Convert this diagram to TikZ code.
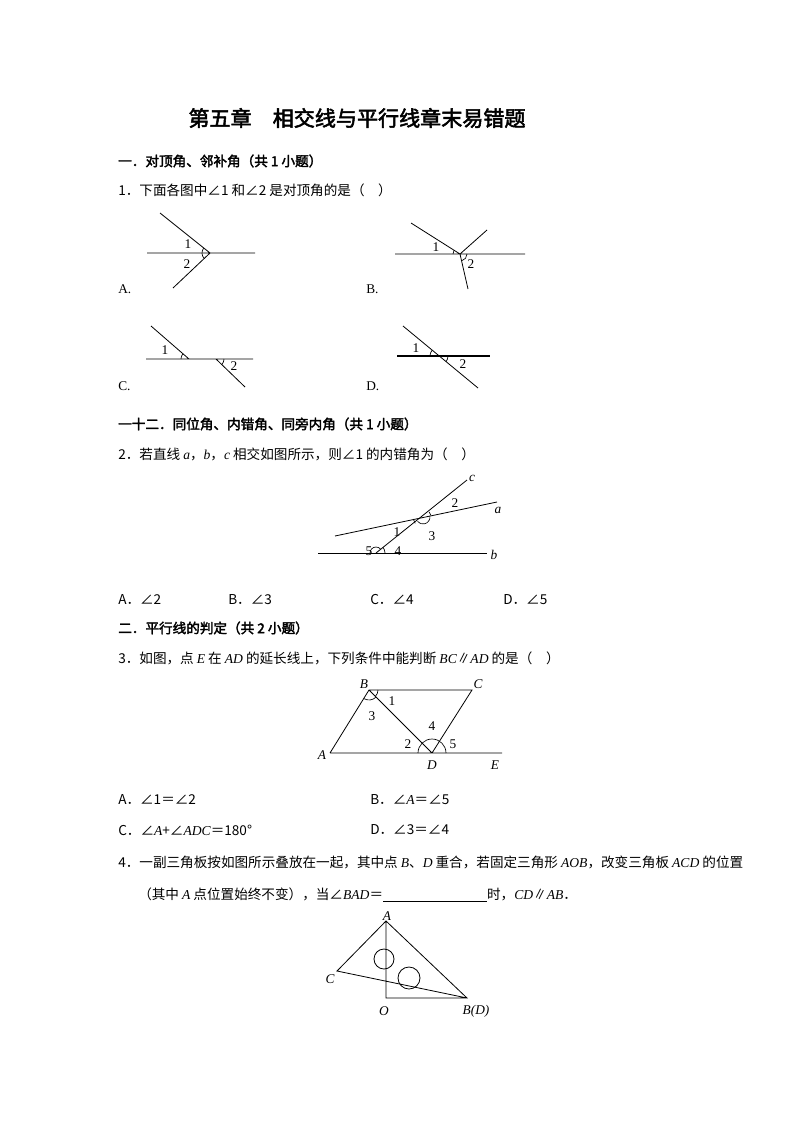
\documentclass[tikz,border=0pt]{standalone}
\usepackage{fontspec}
\setmainfont{Noto Sans CJK SC}[AutoFakeBold=2.5]
\newfontfamily\lat{Liberation Serif}
\newcommand{\mv}[1]{{\lat\itshape #1}}
\begin{document}
\begin{tikzpicture}[x=0.75pt,y=-0.75pt,
  txt/.style={anchor=west,inner sep=0,font=\fontsize{10.2}{12}\selectfont},
  hd/.style={txt,font=\fontsize{10.2}{12}\selectfont\bfseries},
  lb/.style={inner sep=0,font=\lat\fontsize{10}{11}\selectfont},
  lbi/.style={inner sep=0,font=\lat\itshape\fontsize{10}{11}\selectfont},
  ln/.style={line width=0.6pt},
  ang/.style={line width=0.5pt}]
\useasboundingbox (0,0) rectangle (800,1132);
\node[inner sep=0,font=\fontsize{15.8}{18}\selectfont\bfseries] (title) at (357,118) {第五章\quad 相交线与平行线章末易错题};
\node[hd] (h1) at (118,161) {一．对顶角、邻补角（共 1 小题）};
\node[txt] (q1) at (118,190) {1．下面各图中∠1 和∠2 是对顶角的是（\quad ）};
% Fig A
\coordinate (va) at (210,253);
\draw[ln] (147,253) -- (255,253) (160,213) -- (va) -- (173,288);
\draw[ang] ([shift={(136:8)}]va) arc[start angle=136,end angle=219,radius=8];
\node[lb] (a1) at (188,244) {1}; \node[lb] (a2) at (187,264) {2};
\node[txt,font=\lat\fontsize{10}{12}\selectfont] (oa) at (118,289) {A.};
% Fig B
\coordinate (vb) at (460,254);
\draw[ln] (395,254) -- (525,254) (411,223) -- (vb) -- (487,230) (vb) -- (468,289);
\draw[ang] ([shift={(180:7)}]vb) arc[start angle=180,end angle=212,radius=7];
\draw[ang] ([shift={(0:7)}]vb) arc[start angle=0,end angle=77,radius=7];
\node[lb] (b1) at (436,247) {1}; \node[lb] (b2) at (471,264) {2};
\node[txt,font=\lat\fontsize{10}{12}\selectfont] (ob) at (366,289) {B.};
% Fig C
\coordinate (vc1) at (189,359); \coordinate (vc2) at (216,359);
\draw[ln] (146,359) -- (253,359) (151,326) -- (vc1) (vc2) -- (245,387);
\draw[ang] ([shift={(180:8)}]vc1) arc[start angle=180,end angle=221,radius=8];
\draw[ang] ([shift={(0:8)}]vc2) arc[start angle=0,end angle=44,radius=8];
\node[lb] (c1) at (165,350) {1}; \node[lb] (c2) at (234,366) {2};
\node[txt,font=\lat\fontsize{10}{12}\selectfont] (oc) at (118,386) {C.};
% Fig D
\coordinate (vd) at (439,356);
\draw[line width=1pt] (397,356) -- (490,356);
\draw[ln] (403,326) -- (478,388);
\draw[ang] ([shift={(180:9)}]vd) arc[start angle=180,end angle=220,radius=9];
\draw[ang] ([shift={(0:9)}]vd) arc[start angle=0,end angle=40,radius=9];
\node[lb] (d1) at (416,348) {1}; \node[lb] (d2) at (463,364) {2};
\node[txt,font=\lat\fontsize{10}{12}\selectfont] (od) at (366,386) {D.};
% Q2
\node[hd] (h2) at (118,424) {一十二．同位角、内错角、同旁内角（共 1 小题）};
\node[txt] (q2) at (118,454) {2．若直线 \mv{a}，\mv{b}，\mv{c} 相交如图所示，则∠1 的内错角为（\quad ）};
\coordinate (P) at (423,517); \coordinate (Q) at (376,553);
\draw[ln] (335,536) -- (497,502);
\draw[ln] (318,553) -- (487,553);
\draw[ln] (Q) -- (467,480);
\draw[ang] ([shift={(321:8)}]P) arc[start angle=321,end angle=348,radius=8];
\draw[ang] ([shift={(141:10)}]P) arc[start angle=141,end angle=168,radius=10];
\draw[ang] ([shift={(-12:7)}]P) arc[start angle=-12,end angle=141,radius=7];
\draw[ang] ([shift={(-39:9)}]Q) arc[start angle=-39,end angle=0,radius=9];
\draw[ang] ([shift={(180:6)}]Q) arc[start angle=180,end angle=321,radius=6];
\node[lbi] (lc) at (472,478) {c}; \node[lbi] (la) at (498,510) {a}; \node[lbi] (lbb) at (494,555) {b};
\node[lb] (n2) at (455,503) {2}; \node[lb] (n3) at (432,536) {3}; \node[lb] (n1) at (397,532) {1};
\node[lb] (n5) at (369,551) {5}; \node[lb] (n4) at (398,551) {4};
\node[txt] (o2a) at (118,600) {A．∠2};
\node[txt] (o2b) at (228,600) {B．∠3};
\node[txt] (o2c) at (370,600) {C．∠4};
\node[txt] (o2d) at (503,600) {D．∠5};
% Q3
\node[hd] (h3) at (118,628) {二．平行线的判定（共 2 小题）};
\node[txt] (q3) at (118,658) {3．如图，点 \mv{E} 在 \mv{AD} 的延长线上，下列条件中能判断 \mv{BC}∥\mv{AD} 的是（\quad ）};
\coordinate (B) at (369,690); \coordinate (C) at (472,690); \coordinate (A) at (330,753);
\coordinate (D) at (432,753); \coordinate (E) at (502,753);
\draw[ln] (A) -- (B) -- (C) -- (D) (B) -- (D) (A) -- (E);
\draw[ang] ([shift={(0:9)}]B) arc[start angle=0,end angle=45,radius=9];
\draw[ang] ([shift={(45:10)}]B) arc[start angle=45,end angle=122,radius=10];
\draw[ang] ([shift={(180:14)}]D) arc[start angle=180,end angle=360,radius=14];
\node[lbi] (lB) at (364,684) {B}; \node[lbi] (lC) at (478,684) {C}; \node[lbi] (lA) at (322,755) {A};
\node[lbi] (lD) at (432,765) {D}; \node[lbi] (lE) at (495,765) {E};
\node[lb] (m1) at (392,701) {1}; \node[lb] (m3) at (372,716) {3}; \node[lb] (m4) at (432,726) {4};
\node[lb] (m2) at (408,744) {2}; \node[lb] (m5) at (453,744) {5};
\node[txt] (o3a) at (118,800) {A．∠1＝∠2};
\node[txt] (o3b) at (370,800) {B．∠\mv{A}＝∠5};
\node[txt] (o3c) at (118,830) {C．∠\mv{A}+∠\mv{ADC}＝180°};
\node[txt] (o3d) at (370,830) {D．∠3＝∠4};
% Q4
\node[txt] (q4) at (118,862) {4．一副三角板按如图所示叠放在一起，其中点 \mv{B}、\mv{D} 重合，若固定三角形 \mv{AOB}，改变三角板 \mv{ACD} 的位置};
\node[txt] (q4b) at (138,895) {（其中 \mv{A} 点位置始终不变），当∠\mv{BAD}＝\underline{\hspace{78pt}}时，\mv{CD}∥\mv{AB}．};
\coordinate (A4) at (386,921); \coordinate (O4) at (386,998); \coordinate (B4) at (467,998); \coordinate (C4) at (337,971);
\draw[ln] (A4) -- (O4) -- (B4) -- (A4) -- (C4) -- (B4);
\draw[ln] (384,959) circle[radius=10] (409,978) circle[radius=11];
\node[lbi] (lA4) at (387,916) {A}; \node[lbi] (lC4) at (330,979) {C};
\node[lbi] (lO4) at (384,1011) {O}; \node[lbi] (lB4) at (476,1011) {B(D)};
\end{tikzpicture}
\end{document}
